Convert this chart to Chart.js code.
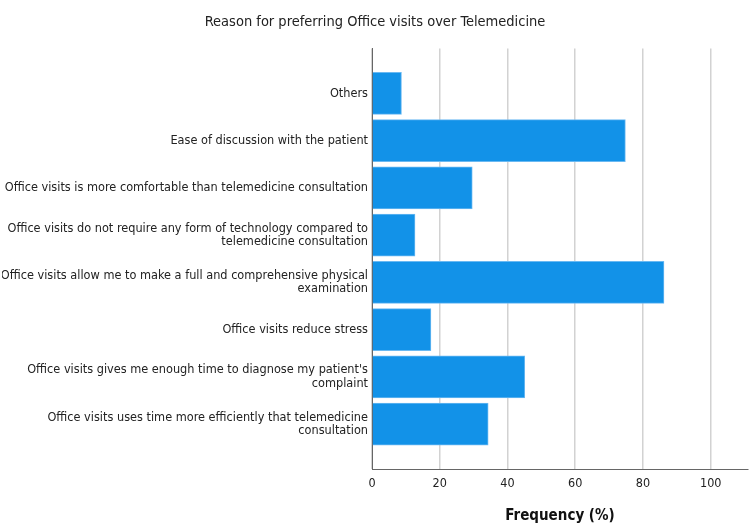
<!DOCTYPE html>
<html>
<head>
<meta charset="utf-8">
<script src="https://cdn.jsdelivr.net/npm/chart.js@4/dist/chart.umd.min.js"></script>
<style>
  html, body { margin: 0; padding: 0; background: #fff; }
  #wrap { width: 750px; height: 530px; }
</style>
</head>
<body>
<div id="wrap"><canvas id="reasonChart"></canvas></div>
<script>
// Reasons (top to bottom) and frequency (%)
const reasons = [
    "Others",
    "Ease of discussion with the patient",
    "Office visits is more comfortable than telemedicine consultation",
    ["Office visits do not require any form of technology compared to", "telemedicine consultation"],
    ["Office visits allow me to make a full and comprehensive physical", "examination"],
    "Office visits reduce stress",
    ["Office visits gives me enough time to diagnose my patient's", "complaint"],
    ["Office visits uses time more efficiently that telemedicine", "consultation"]
];
const frequency = [8.7, 74.8, 29.6, 12.7, 86.2, 17.4, 45.1, 34.3];
const xTicks = [0, 20, 40, 60, 80, 100];

const FONT = "'DejaVu Sans Condensed', 'DejaVu Sans', sans-serif";

const ctx = document.getElementById("reasonChart").getContext("2d");
new Chart(ctx, {
    type: "bar",
    data: {
        datasets: [{
            label: "Frequency (%)",
            data: frequency.map((v, i) => ({ x: v, y: i })),
            backgroundColor: "#1292e8",
            borderColor: "#6ab9f2",
            borderWidth: 1,
            barThickness: 42
        }]
    },
    options: {
        indexAxis: "y",
        responsive: true,
        maintainAspectRatio: false,
        animation: false,
        layout: { padding: { left: 2, right: 2, top: 0, bottom: 0 } },
        plugins: {
            legend: { display: false },
            tooltip: { enabled: false },
            title: {
                display: true,
                text: "Reason for preferring Office visits over Telemedicine",
                color: "#222",
                font: { family: FONT, size: 14.5, weight: "normal" },
                padding: { top: 14, bottom: 17 }
            }
        },
        scales: {
            x: {
                type: "linear",
                min: 0,
                max: 111,
                afterBuildTicks: (scale) => { scale.ticks = xTicks.map(v => ({ value: v })); },
                afterFit: (scale) => { scale.height = 61; },
                grid: { color: "#d2d2d2", lineWidth: 1.5, drawTicks: false },
                border: { display: true, color: "#666", width: 1 },
                ticks: { color: "#222", padding: 7, font: { family: FONT, size: 12.5 } },
                title: {
                    display: true,
                    text: "Frequency (%)",
                    color: "#111",
                    font: { family: FONT, size: 15, weight: "bold" },
                    padding: { top: 11, bottom: 5 }
                }
            },
            y: {
                type: "linear",
                reverse: true,
                offset: false,
                min: -0.95,
                max: reasons.length - 0.05,
                afterBuildTicks: (scale) => { scale.ticks = reasons.map((_, i) => ({ value: i })); },
                afterFit: (scale) => { scale.width = 370; },
                grid: { display: false, drawTicks: false },
                border: { display: true, color: "#666", width: 1 },
                ticks: {
                    color: "#222",
                    padding: 4,
                    font: { family: FONT, size: 12.6, lineHeight: 1.06 },
                    callback: (value) => reasons[value]
                }
            }
        }
    }
});
</script>
</body>
</html>
